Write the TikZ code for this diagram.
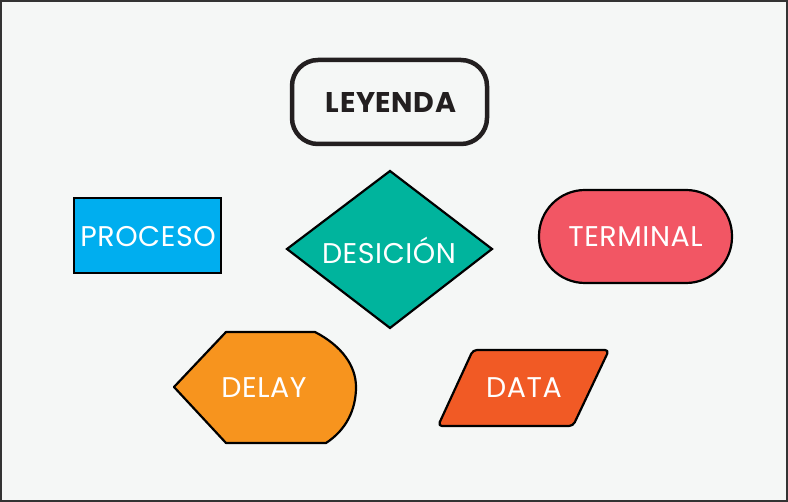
\documentclass[tikz,border=0pt]{standalone}
\usepackage{fontspec}
\usepackage{xcolor}
\setmainfont{Poppins}[LetterSpace=2]

\begin{document}
\begin{tikzpicture}[x=1pt, y=-1pt]
    % Colours of the legend
    \definecolor{bgcol}{HTML}{F5F7F6}
    \definecolor{framecol}{HTML}{333333}
    \definecolor{titlecol}{HTML}{231F20}
    \definecolor{procblue}{HTML}{00AEEF}
    \definecolor{decteal}{HTML}{00B49D}
    \definecolor{termred}{HTML}{F25664}
    \definecolor{delayorange}{HTML}{F7941E}
    \definecolor{dataorange}{HTML}{F15A25}

    \tikzset{
        shapeline/.style={draw=black, line width=2.2pt, line join=round},
        shapetext/.style={text=white, font=\fontsize{28.5}{32}\selectfont}
    }

    % Frame and background
    \useasboundingbox (0,0) rectangle (788,502);
    \draw[draw=framecol, line width=2pt, fill=bgcol] (1,1) rectangle (787,501);

    % Title box
    \draw[draw=titlecol, line width=4.5pt, rounded corners=26pt] (292,60) rectangle (487,144);
    \node[text=titlecol, font=\bfseries\fontsize{28.5}{32}\selectfont] (leyenda) at (391,102.5) {LEYENDA};

    % Process: plain rectangle
    \draw[shapeline, fill=procblue, line join=miter] (74,198) rectangle (221,273);
    \node[shapetext] (proceso) at (148,236.5) {PROCESO};

    % Decision: diamond
    \draw[shapeline, fill=decteal, line join=miter] (390,171) -- (492,249) -- (390,328) -- (287,249) -- cycle;
    \node[shapetext] (desicion) at (389,250) {DESICIÓN};

    % Terminal: rounded ends
    \draw[shapeline, fill=termred, rounded corners=46pt] (539,190) rectangle (732,283);
    \node[shapetext] (terminal) at (635.5,237) {TERMINAL};

    % Delay: pointed left side, round right side
    \draw[shapeline, fill=delayorange] (174,387) -- (226,332) -- (315,332)
        .. controls (342,346) and (356,366) .. (356,387)
        .. controls (356,410) and (346,430) .. (326,443) -- (226,443) -- cycle;
    \node[shapetext] (delay) at (264,388) {DELAY};

    % Data: slanted parallelogram
    \draw[shapeline, fill=dataorange, rounded corners=4pt] (473,350) -- (609,350) -- (573,426) -- (438,426) -- cycle;
    \node[shapetext] (data) at (524,388) {DATA};

\end{tikzpicture}
\end{document}
